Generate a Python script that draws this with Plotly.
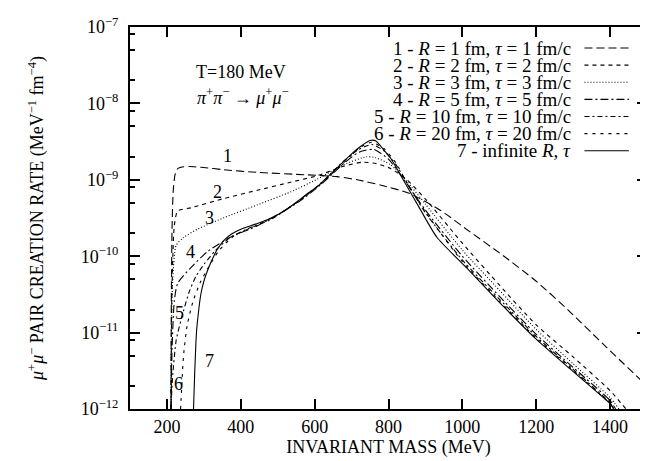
import math
import plotly.graph_objects as go

# ---------------- data ----------------
x1 = [211, 212, 214, 217, 222, 230, 245, 261, 300, 350, 445, 580, 661, 715, 780, 858, 940, 1020, 1110, 1200, 1290, 1381, 1500]
y1 = [1e-12, 3.2e-11, 2.5e-10, 7.1e-10, 1.17e-9, 1.41e-9, 1.48e-9, 1.49e-9, 1.45e-9, 1.36e-9, 1.25e-9, 1.16e-9, 1.1e-9, 1.0e-9,
      8.5e-10, 6.6e-10, 4.0e-10, 2.1e-10, 1.02e-10, 4.7e-11, 1.9e-11, 7.1e-12, 2.0e-12]

x2 = [211, 213, 216, 220, 229, 265, 355, 445, 535, 607, 679, 730, 769, 805, 850, 900, 1000, 1100, 1200, 1300, 1400, 1443]
y2 = [1e-12, 2.5e-11, 1.0e-10, 2.5e-10, 3.9e-10, 4.3e-10, 5.7e-10, 7.3e-10, 9.3e-10, 1.13e-9, 1.51e-9, 1.7e-9, 1.62e-9, 1.41e-9,
      1.0e-9, 5.6e-10, 1.48e-10, 4.2e-11, 1.26e-11, 4.8e-12, 1.74e-12, 1e-12]

x3 = [211, 213, 216, 225, 247, 283, 355, 445, 535, 607, 679, 740, 765, 805, 850, 900, 1000, 1100, 1200, 1300, 1400, 1424]
y3 = [1e-12, 2.0e-11, 5.2e-11, 1.39e-10, 1.78e-10, 2.26e-10, 3.2e-10, 4.7e-10, 6.95e-10, 1.02e-9, 1.58e-9, 2.0e-9, 1.95e-9, 1.58e-9,
      9.5e-10, 4.8e-10, 1.2e-10, 3.6e-11, 1.1e-11, 3.9e-12, 1.41e-12, 1e-12]

x4 = [211, 214, 220, 229, 265, 310, 373, 445, 553, 620, 680, 720, 760, 800, 850, 900, 1000, 1100, 1200, 1300, 1400, 1415]
y4 = [1e-12, 6.3e-12, 2.6e-11, 4.4e-11, 7.1e-11, 1.15e-10, 1.78e-10, 2.5e-10, 5.0e-10, 8.9e-10, 1.66e-9, 2.3e-9, 2.5e-9, 1.86e-9,
      8.9e-10, 4.0e-10, 1.0e-10, 3.0e-11, 9.5e-12, 3.5e-12, 1.29e-12, 1e-12]

x5 = [211, 215, 225, 240, 261, 280, 301, 330, 370, 420, 480, 553, 620, 680, 720, 755, 790, 820, 850, 900, 1000, 1100, 1200, 1300, 1400, 1410]
y5 = [1e-12, 2.5e-12, 7.9e-12, 1.58e-11, 3.5e-11, 5.6e-11, 7.9e-11, 1.17e-10, 1.74e-10, 2.3e-10, 3.0e-10, 5.1e-10, 9.3e-10, 1.78e-9,
      2.5e-9, 2.9e-9, 2.34e-9, 1.58e-9, 9.1e-10, 3.7e-10, 8.9e-11, 2.75e-11, 8.9e-12, 3.3e-12, 1.2e-12, 1e-12]

x6 = [237, 245, 255, 270, 290, 310, 340, 380, 440, 500, 553, 620, 680, 720, 755, 790, 820, 850, 900, 1000, 1100, 1200, 1300, 1400, 1408]
y6 = [1e-12, 5.0e-12, 1.26e-11, 2.5e-11, 4.5e-11, 6.8e-11, 1.17e-10, 1.82e-10, 2.5e-10, 3.5e-10, 5.1e-10, 9.1e-10, 1.7e-9, 2.6e-9,
      3.1e-9, 2.5e-9, 1.66e-9, 9.1e-10, 3.8e-10, 8.5e-11, 2.6e-11, 8.5e-12, 3.2e-12, 1.17e-12, 1e-12]

x7 = [272, 275, 280, 285, 292, 300, 310, 322, 333, 345, 355, 375, 400, 440, 472, 510, 553, 580, 607, 643, 670, 700, 725, 750,
      765, 787, 805, 841, 886, 931, 1020, 1112, 1200, 1290, 1400, 1410]
y7 = [1e-12, 2.8e-12, 1.0e-11, 1.78e-11, 3.2e-11, 4.7e-11, 6.5e-11, 8.9e-11, 1.15e-10, 1.41e-10, 1.62e-10, 1.95e-10, 2.26e-10,
      2.63e-10, 3.0e-10, 3.7e-10, 5.2e-10, 6.6e-10, 8.1e-10, 1.19e-9, 1.58e-9, 2.19e-9, 2.75e-9, 3.27e-9, 3.24e-9, 2.47e-9,
      1.94e-9, 9.8e-10, 4.1e-10, 1.77e-10, 6.4e-11, 2.18e-11, 8.2e-12, 3.4e-12, 1.17e-12, 1e-12]

legend_texts = [
    "1 - <i>R</i> = 1 fm, <i>τ</i> = 1 fm/c",
    "2 - <i>R</i> = 2 fm, <i>τ</i> = 2 fm/c",
    "3 - <i>R</i> = 3 fm, <i>τ</i> = 3 fm/c",
    "4 - <i>R</i> = 5 fm, <i>τ</i> = 5 fm/c",
    "5 - <i>R</i> = 10 fm, <i>τ</i> = 10 fm/c",
    "6 - <i>R</i> = 20 fm, <i>τ</i> = 20 fm/c",
    "7 - infinite <i>R</i>, <i>τ</i>",
]

curve_labels = ["1", "2", "3", "4", "5", "6", "7"]
label_x = [364, 337, 315, 265, 234, 231, 315]
label_y = [2.03e-9, 6.95e-10, 3.2e-10, 1.12e-10, 1.8e-11, 2.1e-12, 4.2e-12]

x_ticks = [200, 400, 600, 800, 1000, 1200, 1400]
y_exps = [-12, -11, -10, -9, -8, -7]

# ---------------- figure ----------------
FONT = "Liberation Serif"
FS = 18
dashes = ["8px,4px", "4px,4px", "1px,2px", "8px,3px,2px,3px", "5px,3px,2px,3px", "3px,5px", "solid"]
series = [(x1, y1), (x2, y2), (x3, y3), (x4, y4), (x5, y5), (x6, y6), (x7, y7)]

fig = go.Figure()
for (xs, ys), d in zip(series, dashes):
    fig.add_trace(go.Scatter(x=xs, y=ys, mode="lines",
                             line=dict(color="black", width=1.1, dash=d, shape="spline", smoothing=0.6),
                             showlegend=False, hoverinfo="skip"))

# curve number labels (annotation y on a log axis is given in log10 units)
for t, lx, ly in zip(curve_labels, label_x, label_y):
    fig.add_annotation(x=lx, y=math.log10(ly), yref="y", xref="x", text=t, showarrow=False,
                       font=dict(family=FONT, size=FS, color="black"))

# legend drawn as text + sample lines
row0 = 0.945
step = 0.0448
for i, (txt, d) in enumerate(zip(legend_texts, dashes)):
    yy = row0 - i * step
    fig.add_annotation(x=0.857, y=yy, xref="paper", yref="paper", text=txt, showarrow=False,
                       xanchor="right", yanchor="middle", font=dict(family=FONT, size=19, color="black"))
    fig.add_shape(type="line", xref="paper", yref="paper", x0=0.879, x1=0.965, y0=yy, y1=yy,
                  line=dict(color="black", width=1.1, dash=d))

fig.add_annotation(x=400, y=math.log10(2.57e-8), xref="x", yref="y", text="T=180 MeV", showarrow=False,
                   font=dict(family=FONT, size=FS, color="black"))
fig.add_annotation(x=405, y=math.log10(1.23e-8), xref="x", yref="y",
                   text="<i>π</i><sup>+</sup><i>π</i><sup>−</sup> → <i>μ</i><sup>+</sup><i>μ</i><sup>−</sup>",
                   showarrow=False, font=dict(family=FONT, size=FS, color="black"))

minor_vals = []
for e in y_exps[:-1]:
    for m in (2, 5, 8):
        minor_vals.append(m * 10.0 ** e)

fig.update_layout(
    width=648, height=461,
    margin=dict(l=122, r=7, t=8, b=60),
    paper_bgcolor="white", plot_bgcolor="white",
    font=dict(family=FONT, size=FS, color="black"),
    showlegend=False,
)
fig.update_xaxes(range=[100, 1500], tickvals=x_ticks, ticktext=[str(v) for v in x_ticks],
                 ticks="inside", ticklen=10, tickwidth=1.5, tickcolor="black",
                 showline=True, linewidth=2, linecolor="black", mirror="ticks",
                 showgrid=False, zeroline=False,
                 title=dict(text="INVARIANT MASS (MeV)", font=dict(family=FONT, size=FS), standoff=4),
                 tickfont=dict(family=FONT, size=FS))
fig.update_yaxes(type="log", range=[-12.0001, -6.9999],
                 tickvals=[10.0 ** e for e in y_exps],
                 ticktext=["10<sup>−%d</sup>" % (-e) for e in y_exps],
                 ticks="inside", ticklen=10, tickwidth=1.5, tickcolor="black",
                 ticklabeloverflow="allow", ticklabelstandoff=6,
                 showline=True, linewidth=2, linecolor="black", mirror="ticks",
                 showgrid=False, zeroline=False,
                 minor=dict(tickvals=minor_vals, ticks="inside", ticklen=5, tickwidth=1.5, tickcolor="black", showgrid=False),
                 title=dict(text="<i>μ</i><sup>+</sup><i>μ</i><sup>−</sup> PAIR CREATION RATE (MeV<sup>−1</sup> fm<sup>−4</sup>)",
                            font=dict(family=FONT, size=FS), standoff=32),
                 tickfont=dict(family=FONT, size=FS))

fig.write_html("out.html")
